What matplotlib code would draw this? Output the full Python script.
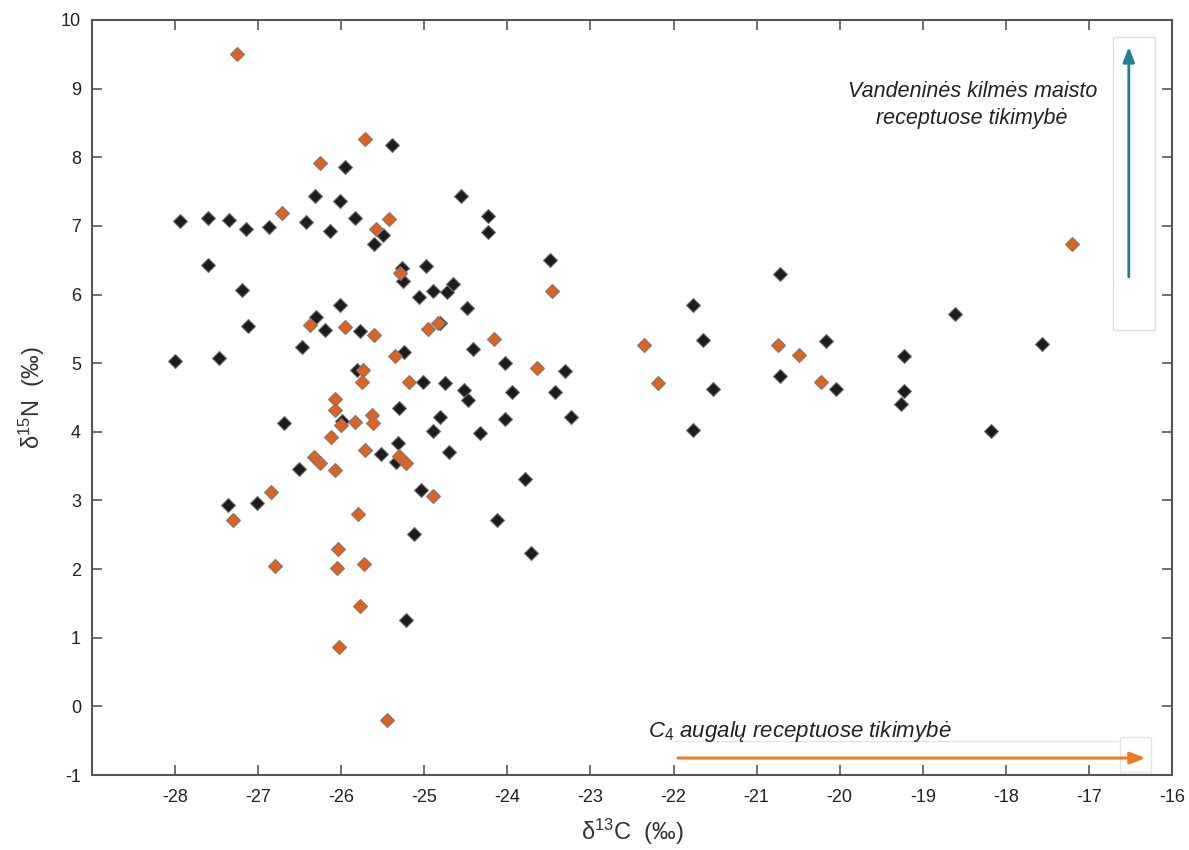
import matplotlib
matplotlib.use("Agg")
import matplotlib.pyplot as plt
from matplotlib.patches import Rectangle

plt.rcParams['font.family'] = ['Liberation Sans', 'DejaVu Sans']
plt.rcParams['mathtext.fontset'] = 'custom'
plt.rcParams['mathtext.rm'] = 'Liberation Sans'
plt.rcParams['mathtext.it'] = 'Liberation Sans:italic'
plt.rcParams['axes.unicode_minus'] = False

# black group (d13C, d15N)
black_x = [-28.00, -27.94, -27.60, -27.60, -27.47, -27.35, -27.36, -27.19, -27.15, -27.12,
           -27.02, -26.87, -26.69, -26.51, -26.47, -26.42, -26.31, -26.30, -26.20, -26.14,
           -26.02, -26.01, -25.99, -25.95, -25.83, -25.81, -25.77, -25.60, -25.50, -25.52,
           -25.39, -25.27, -25.26, -25.24, -25.31, -25.32, -25.34, -25.22, -25.13, -25.07,
           -25.04, -25.01, -24.98, -24.90, -24.89, -24.81, -24.81, -24.75, -24.73, -24.70,
           -24.65, -24.56, -24.52, -24.49, -24.47, -24.41, -24.33, -24.23, -24.23, -24.12,
           -24.03, -24.03, -23.95, -23.79, -23.72, -23.49, -23.43, -23.31, -23.23, -21.77,
           -21.76, -21.64, -21.52, -20.72, -20.72, -20.16, -20.04, -19.22, -19.22, -19.26,
           -18.61, -18.18, -17.56]
black_y = [5.03, 7.07, 7.11, 6.43, 5.08, 7.08, 2.94, 6.06, 6.96, 5.54,
           2.96, 6.99, 4.13, 3.46, 5.23, 7.05, 7.44, 5.67, 5.49, 6.93,
           7.37, 5.85, 4.16, 7.86, 7.12, 4.90, 5.47, 6.73, 6.87, 3.67,
           8.18, 6.38, 6.20, 5.16, 4.35, 3.83, 3.56, 1.26, 2.51, 5.97,
           3.15, 4.72, 6.42, 4.01, 6.05, 5.59, 4.21, 4.71, 6.03, 3.71,
           6.15, 7.43, 4.61, 5.80, 4.46, 5.21, 3.99, 7.15, 6.91, 2.71,
           5.00, 4.19, 4.58, 3.31, 2.24, 6.50, 4.58, 4.89, 4.21, 5.85,
           4.02, 5.34, 4.63, 6.30, 4.81, 5.33, 4.62, 5.10, 4.59, 4.40,
           5.71, 4.01, 5.28]

# orange group
orange_x = [-27.26, -25.71, -26.25, -26.71, -25.58, -25.42, -26.38, -25.95, -25.60, -25.74,
            -25.75, -26.07, -26.08, -26.00, -25.83, -25.63, -25.62, -26.12, -25.72, -26.33,
            -26.25, -26.07, -26.84, -27.30, -25.80, -26.04, -26.80, -26.05, -25.73, -25.77,
            -26.03, -25.45, -25.29, -24.84, -24.95, -24.16, -23.46, -25.35, -23.64, -25.18,
            -25.30, -25.22, -24.89, -22.36, -22.19, -20.74, -20.49, -20.22, -17.20]
orange_y = [9.51, 8.26, 7.91, 7.19, 6.96, 7.10, 5.55, 5.52, 5.41, 4.90,
            4.73, 4.48, 4.32, 4.10, 4.14, 4.24, 4.13, 3.92, 3.74, 3.64,
            3.55, 3.45, 3.12, 2.72, 2.80, 2.30, 2.04, 2.01, 2.07, 1.46,
            0.86, -0.20, 6.31, 5.59, 5.50, 5.35, 6.05, 5.10, 4.93, 4.72,
            3.65, 3.54, 3.06, 5.27, 4.71, 5.26, 5.12, 4.72, 6.74]

x_ticks = list(range(-28, -15))
y_ticks = list(range(-1, 11))

fig = plt.figure(figsize=(11.89, 8.5), dpi=100)
ax = fig.add_axes([0.0774, 0.0882, 0.9083, 0.8883])

ax.plot(black_x, black_y, linestyle='none', marker='D', markersize=6.8,
        markerfacecolor='#1c1c1c', markeredgecolor='#6e6e6e', markeredgewidth=0.8)
ax.plot(orange_x, orange_y, linestyle='none', marker='D', markersize=6.8,
        markerfacecolor='#e2611c', markeredgecolor='#7a7a7a', markeredgewidth=0.8)

ax.set_xlim(-29, -16)
ax.set_ylim(-1, 10)
ax.set_xticks(x_ticks)
ax.set_yticks(y_ticks)
ax.tick_params(direction='in', length=7, width=1.2, color='#555555',
               labelsize=13, labelcolor='#222222', top=True, right=True)
ax.tick_params(axis='x', pad=10)
ax.tick_params(axis='y', pad=8)
for s in ax.spines.values():
    s.set_color('#555555')
    s.set_linewidth(1.5)

ax.set_xlabel(r'δ$^{13}$C  (‰)', fontsize=17, color='#333333', labelpad=8)
ax.set_ylabel(r'δ$^{15}$N  (‰)', fontsize=17, color='#333333', labelpad=10)

# vertical arrow box
ax.add_patch(Rectangle((0.945, 0.589), 0.039, 0.388, transform=ax.transAxes,
                       facecolor='white', edgecolor='#dddddd', lw=1, zorder=3))
ax.annotate('', xy=(0.960, 0.968), xytext=(0.960, 0.656), xycoords='axes fraction',
            arrowprops=dict(arrowstyle='-|>,head_length=0.9,head_width=0.35',
                            color='#1f7e98', lw=2), zorder=4)
ax.text(0.815, 0.887, 'Vandeninės kilmės maisto\nreceptuose tikimybė',
        transform=ax.transAxes, ha='center', va='center', multialignment='center',
        fontsize=15.5, style='italic', color='#222222', linespacing=1.35)

# horizontal arrow
ax.plot([0.537, 0.952], [0.045, 0.045], transform=ax.transAxes, color='#e4e4e4', lw=1)
ax.add_patch(Rectangle((0.952, 0.004), 0.029, 0.046, transform=ax.transAxes,
                       facecolor='white', edgecolor='#e4e4e4', lw=1, zorder=3))
ax.annotate('', xy=(0.978, 0.0225), xytext=(0.540, 0.0225), xycoords='axes fraction',
            arrowprops=dict(arrowstyle='-|>,head_length=0.9,head_width=0.35',
                            color='#f07d1a', lw=2.2), zorder=4)
ax.text(0.515, 0.058, r'$C_4$ augalų receptuose tikimybė', transform=ax.transAxes,
        ha='left', va='center', fontsize=16, style='italic', color='#222222')

fig.savefig('out.png', dpi=100)
